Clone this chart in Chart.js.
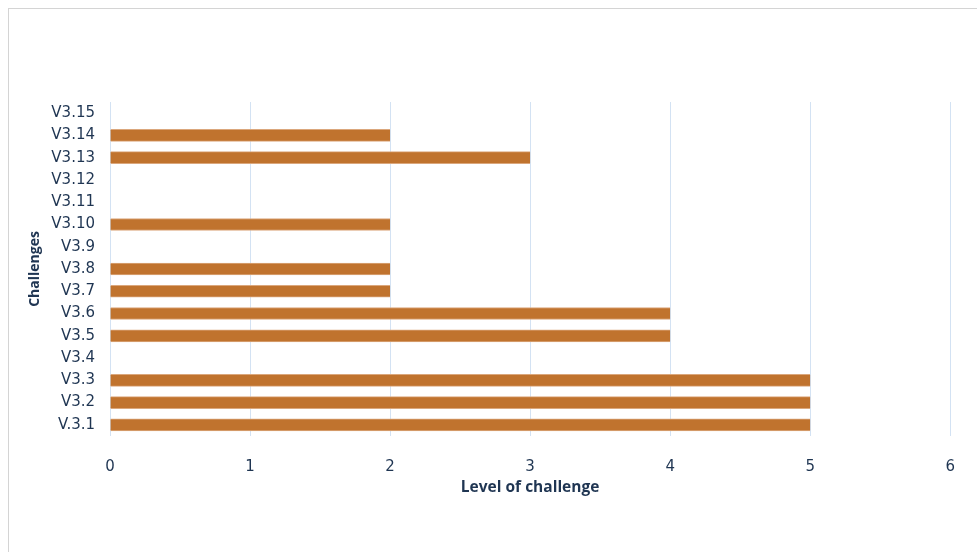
<!DOCTYPE html>
<html>
<head>
<meta charset="utf-8">
<script src="https://cdn.jsdelivr.net/npm/chart.js@4.4.1/dist/chart.umd.min.js"></script>
<style>
  html, body { margin: 0; padding: 0; background: #fff; }
  #wrap { position: relative; width: 977px; height: 552px; overflow: hidden; }
  #frame { position: absolute; left: 8px; top: 8px; width: 1100px; height: 700px; border: 1px solid #d4d4d4; box-sizing: border-box; }
  canvas { position: absolute; left: 0; top: 0; }
</style>
</head>
<body>
<div id="wrap">
  <div id="frame"></div>
  <canvas id="chart" width="977" height="552"></canvas>
</div>
<script>
// bottom to top, as in the picture
const challenges = ["V.3.1", "V3.2", "V3.3", "V3.4", "V3.5", "V3.6", "V3.7", "V3.8", "V3.9", "V3.10", "V3.11", "V3.12", "V3.13", "V3.14", "V3.15"];
const levels = [5, 5, 5, null, 4, 4, 2, 2, null, 2, null, null, 3, 2, null];
const xTicks = [0, 1, 2, 3, 4, 5, 6];

const textColor = "#1f3552";
const tickFont = "'DejaVu Sans', sans-serif";
const titleFont = "'Open Sans', sans-serif";

new Chart(document.getElementById("chart"), {
  type: "bar",
  data: {
    labels: challenges,
    datasets: [{
      label: "Level of challenge",
      data: levels,
      backgroundColor: "#c0732e",
      borderColor: "#dba77c",
      borderWidth: { top: 1, bottom: 1, left: 0, right: 0 },
      barThickness: 12,
      borderSkipped: false
    }]
  },
  options: {
    indexAxis: "y",
    responsive: false,
    animation: false,
    layout: { padding: { left: 0, right: 23, top: 102, bottom: 0 } },
    plugins: { legend: { display: false }, tooltip: { enabled: false } },
    scales: {
      x: {
        min: xTicks[0],
        max: xTicks[xTicks.length - 1],
        afterBuildTicks: axis => { axis.ticks = xTicks.map(v => ({ value: v })); },
        afterFit: scale => { scale.height = 116; },
        grid: { color: "#d3e2f3", lineWidth: 1, drawTicks: false },
        border: { display: false },
        ticks: { color: textColor, font: { family: tickFont, size: 15 }, padding: 22 },
        title: { display: true, text: "Level of challenge", color: textColor, font: { family: titleFont, size: 15.5, weight: "bold" }, padding: { top: 0, bottom: 55 } }
      },
      y: {
        reverse: true,
        afterFit: scale => { scale.width = 110; },
        grid: { display: false },
        border: { display: false },
        ticks: { color: textColor, font: { family: tickFont, size: 15 }, padding: 7, autoSkip: false },
        title: { display: true, text: "Challenges", color: textColor, font: { family: titleFont, size: 14, weight: "bold" }, padding: { top: 27, bottom: 0 } }
      }
    }
  }
});
</script>
</body>
</html>
